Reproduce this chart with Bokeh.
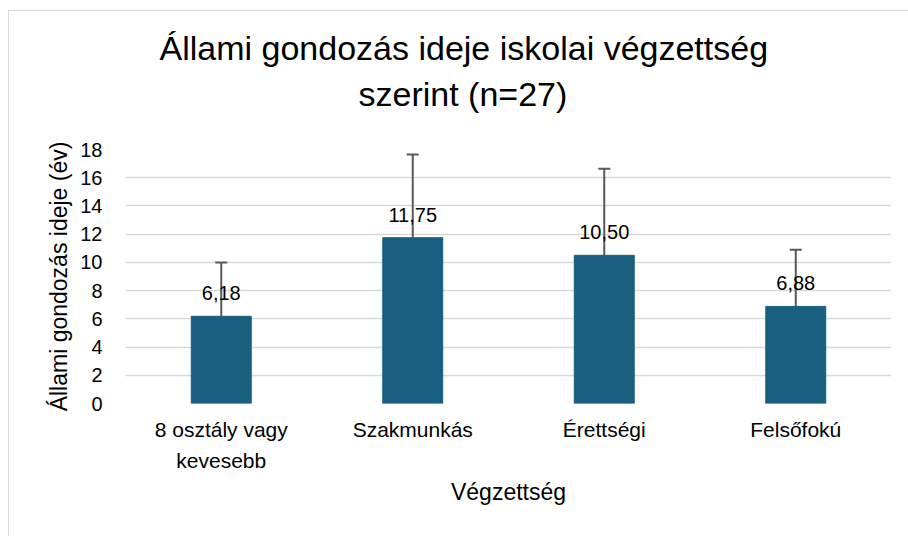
from bokeh.plotting import figure
from bokeh.models import (ColumnDataSource, FactorRange, Range1d, FixedTicker, Whisker,
                          TeeHead, Title, InlineStyleSheet, CategoricalAxis)
from bokeh.core.properties import value
from bokeh.embed import file_html
from bokeh.resources import INLINE

# category labels (first and second text line of each tick label)
cat_line1 = ["8 osztály vagy", "Szakmunkás", "Érettségi", "Felsőfokú"]
cat_line2 = ["kevesebb", " ", "  ", "   "]
means = [6.18, 11.75, 10.50, 6.88]
sds = [3.82, 5.90, 6.14, 4.02]
y_ticks = [0, 2, 4, 6, 8, 10, 12, 14, 16, 18]
title_lines = ["Állami gondozás ideje iskolai végzettség", "szerint (n=27)"]
x_title = "Végzettség"
y_title = "Állami gondozás ideje (év)"

FONT = "Liberation Sans"
BAR = "#185f80"
GRID = "#d9d9d9"
ERR = "#595959"

src = ColumnDataSource(dict(
    cat=cat_line1,
    mean=means,
    upper=[m + s for m, s in zip(means, sds)],
    lower=[m - s for m, s in zip(means, sds)],
    label=[f"{m:.2f}".replace(".", ",") for m in means],
))

p = figure(x_range=FactorRange(*cat_line1, range_padding=0), y_range=Range1d(0, 18),
           width=900, height=526, output_backend="svg", toolbar_location=None,
           min_border_left=116, min_border_right=18, min_border_top=138, min_border_bottom=134)
p.extra_x_ranges = {"line2": FactorRange(*cat_line2, range_padding=0)}
p.stylesheets = [InlineStyleSheet(css=":host { border-top: 1px solid #d9d9d9; border-left: 1px solid #d9d9d9; margin-top: 10px; margin-left: 8px; }")]
p.outline_line_color = None
p.background_fill_color = "white"
p.border_fill_color = "white"

p.add_layout(Title(text=title_lines[1], align="left", text_font=FONT, text_font_size="34px",
                   text_font_style="normal", text_color="black", offset=233, standoff=73), "above")
p.add_layout(Title(text=title_lines[0], align="left", text_font=FONT, text_font_size="34px",
                   text_font_style="normal", text_color="black", offset=34, standoff=-60), "above")

p.vbar(x="cat", top="mean", width=0.313, source=src, fill_color=BAR, line_color=BAR)

p.add_layout(Whisker(source=src, base="cat", upper="upper", lower="lower", dimension="height",
                     line_color=ERR, line_width=2,
                     upper_head=TeeHead(size=12, line_color=ERR, line_width=2),
                     lower_head=TeeHead(size=12, line_color=ERR, line_width=2)))

p.text(x="cat", y="mean", text="label", source=src, text_align="center",
       text_baseline="alphabetic", y_offset=-23, text_font=value(FONT),
       text_font_size="20px", text_color="black")

p.xgrid.grid_line_color = None
p.ygrid.grid_line_color = GRID
p.ygrid.grid_line_width = 1.5

p.yaxis.ticker = FixedTicker(ticks=y_ticks)
p.yaxis.axis_line_color = None
p.yaxis.major_tick_line_color = None
p.yaxis.minor_tick_line_color = None
p.yaxis.major_label_standoff = 17
p.yaxis.major_label_text_font = FONT
p.yaxis.major_label_text_font_size = "20px"
p.yaxis.major_label_text_color = "black"
p.yaxis.axis_label = y_title
p.yaxis.axis_label_text_font = FONT
p.yaxis.axis_label_text_font_size = "23px"
p.yaxis.axis_label_text_font_style = "normal"
p.yaxis.axis_label_text_color = "black"
p.yaxis.axis_label_standoff = 5

xa1 = p.xaxis[0]
xa1.axis_line_color = None
xa1.major_tick_line_color = None
xa1.minor_tick_line_color = None
xa1.major_label_standoff = 8
xa1.major_label_text_font = FONT
xa1.major_label_text_font_size = "21px"
xa1.major_label_text_color = "black"

xa2 = CategoricalAxis(x_range_name="line2", axis_line_color=None, major_tick_line_color=None,
                      minor_tick_line_color=None,
                      major_label_standoff=-1, major_label_text_font=FONT,
                      major_label_text_font_size="21px", major_label_text_color="black",
                      axis_label=x_title, axis_label_text_font=FONT,
                      axis_label_text_font_size="23px", axis_label_text_font_style="normal",
                      axis_label_text_color="black", axis_label_standoff=4)
p.add_layout(xa2, "below")

open("out.html", "w").write(file_html(p, INLINE))
